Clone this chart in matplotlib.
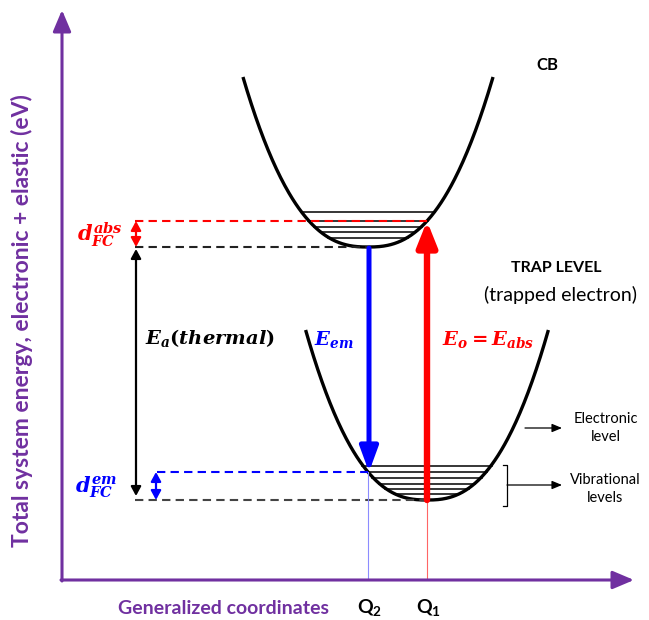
import matplotlib.pyplot as plt
import numpy as np

plt.rcParams['font.family'] = ['Lato', 'DejaVu Sans']
plt.rcParams['mathtext.fontset'] = 'custom'
plt.rcParams['mathtext.it'] = 'DejaVu Serif:italic:bold'
plt.rcParams['mathtext.rm'] = 'DejaVu Serif:bold'
plt.rcParams['mathtext.sf'] = 'Lato:bold'

PURPLE = '#7030A0'

# configuration coordinates of the two minima
Q2 = 368      # conduction band minimum
Q1 = 427      # trap level minimum

# energies (trap minimum taken as zero)
E_trap = 0
E_cb = 253            # E_a(thermal)
d_abs = 26            # Franck-Condon shift on absorption
d_em = 28             # Franck-Condon shift on emission
E_cb_top = 423
E_trap_top = 170
SHAPE = 2.5           # exponent of the well profile

cb_levels = [262, 268, 273, 279, 288]
trap_levels = [6, 11, 16, 22, 28, 34]


def well(q_min, e_min, k, e_top, n=300):
    half = ((e_top - e_min) / k) ** (1 / SHAPE)
    q = np.linspace(q_min - half, q_min + half, n)
    return q, e_min + k * np.abs(q - q_min) ** SHAPE


def width_at(k, e_min, e):
    return ((e - e_min) / k) ** (1 / SHAPE)


k_cb = d_abs / abs(Q1 - Q2) ** SHAPE
k_trap = d_em / abs(Q1 - Q2) ** SHAPE

fig = plt.figure(figsize=(6.49, 6.2), dpi=100)
ax = fig.add_axes([0, 0, 1, 1])
ax.set_xlim(0, 649)
ax.set_ylim(-120, 500)
ax.axis('off')

# axes arrows
ax.annotate('', xy=(62, 490), xytext=(62, -81),
            arrowprops=dict(arrowstyle='-|>,head_length=1.3,head_width=0.55',
                            lw=2.2, color=PURPLE, shrinkA=0, shrinkB=0))
ax.annotate('', xy=(634, -80), xytext=(61, -80),
            arrowprops=dict(arrowstyle='-|>,head_length=1.3,head_width=0.55',
                            lw=2.2, color=PURPLE, shrinkA=0, shrinkB=0))

# potential wells
q, e = well(Q2, E_cb, k_cb, E_cb_top)
ax.plot(q, e, color='black', lw=2.4, solid_capstyle='butt')
q, e = well(Q1, E_trap, k_trap, E_trap_top)
ax.plot(q, e, color='black', lw=2.4, solid_capstyle='butt')

# vibrational levels
for lev in cb_levels:
    h = width_at(k_cb, E_cb, lev) + 1
    ax.plot([Q2 - h, Q2 + h], [lev, lev], color='black', lw=1.1)
for lev in trap_levels:
    h = width_at(k_trap, E_trap, lev) + 1
    ax.plot([Q1 - h, Q1 + h], [lev, lev], color='black', lw=1.1)

dash = (0, (4, 2.5))
ax.plot([135, Q1], [E_cb + d_abs] * 2, color='red', lw=1.5, linestyle=dash)
ax.plot([135, Q2], [E_cb] * 2, color='#222222', lw=1.5, linestyle=dash)
ax.plot([157, Q2], [E_trap + d_em] * 2, color='blue', lw=1.5, linestyle=dash)
ax.plot([135, Q1], [E_trap] * 2, color='#444444', lw=1.5, linestyle=dash)

# thin projections onto the coordinate axis
ax.plot([Q2, Q2], [E_trap + d_em, -79], color='#8c8cff', lw=0.8)
ax.plot([Q1, Q1], [E_trap, -79], color='#ff6666', lw=0.8)

# emission and absorption
ax.annotate('', xy=(Q2 + 1, E_trap + d_em), xytext=(Q2 + 1, E_cb - 1),
            arrowprops=dict(arrowstyle='-|>,head_length=1.5,head_width=0.55',
                            lw=3.6, color='blue', shrinkA=0, shrinkB=0))
ax.annotate('', xy=(Q1, E_cb + d_abs), xytext=(Q1, E_trap),
            arrowprops=dict(arrowstyle='-|>,head_length=1.5,head_width=0.6',
                            lw=4.6, color='red', shrinkA=0, shrinkB=0))

# Franck-Condon and activation arrows
dbl = '<|-|>,head_length=0.55,head_width=0.3'
ax.annotate('', xy=(136, E_cb + d_abs), xytext=(136, E_cb),
            arrowprops=dict(arrowstyle=dbl, lw=1.6, color='red', shrinkA=0, shrinkB=0))
ax.annotate('', xy=(136, E_cb - 2), xytext=(136, E_trap + 4),
            arrowprops=dict(arrowstyle=dbl, lw=1.6, color='black', shrinkA=0, shrinkB=0))
ax.annotate('', xy=(156, E_trap + d_em), xytext=(156, E_trap),
            arrowprops=dict(arrowstyle=dbl, lw=1.6, color='blue', shrinkA=0, shrinkB=0))

ax.text(100, 265, r'$d_{FC}^{abs}$', color='red', fontsize=15, ha='center', va='center')
ax.text(96, 13, r'$d_{FC}^{em}$', color='blue', fontsize=15, ha='center', va='center')
ax.text(210, 162, r'$E_a(thermal)$', color='black', fontsize=14, ha='center', va='center')
ax.text(334, 160, r'$E_{em}$', color='blue', fontsize=14, ha='center', va='center')
ax.text(488, 160, r'$E_o = E_{abs}$', color='red', fontsize=14, ha='center', va='center')

ax.text(547, 435, 'CB', fontsize=12, fontweight='bold', ha='center', va='center')
ax.text(556, 232, 'TRAP LEVEL', fontsize=11.5, fontweight='bold', ha='center', va='center')
ax.text(560, 205, '(trapped electron)', fontsize=14, ha='center', va='center')

# side annotations
ax.annotate('', xy=(562, 72), xytext=(525, 72),
            arrowprops=dict(arrowstyle='-|>,head_length=0.6,head_width=0.25',
                            lw=0.9, color='black', shrinkA=0, shrinkB=0))
ax.text(606, 72, 'Electronic\nlevel', fontsize=10.5, ha='center', va='center',
        linespacing=1.3)
ax.plot([503, 507, 507, 503], [35, 35, -6, -6], color='black', lw=0.9)
ax.annotate('', xy=(562, 15), xytext=(507, 15),
            arrowprops=dict(arrowstyle='-|>,head_length=0.6,head_width=0.25',
                            lw=0.9, color='black', shrinkA=0, shrinkB=0))
ax.text(605, 11, 'Vibrational\nlevels', fontsize=10.5, ha='center', va='center',
        linespacing=1.3)

# axis labels
ax.text(223, -108, 'Generalized coordinates', color=PURPLE, fontsize=14,
        fontweight='bold', ha='center', va='center')
ax.text(Q2 + 2, -108, r'$\mathsf{Q}_{\mathsf{2}}$', fontsize=14, ha='center', va='center')
ax.text(Q1 + 2, -108, r'$\mathsf{Q}_{\mathsf{1}}$', fontsize=14, ha='center', va='center')
ax.text(22, 179, 'Total system energy, electronic + elastic (eV)', color=PURPLE,
        fontsize=16.5, fontweight='bold', rotation=90, ha='center', va='center')

fig.savefig('out.png', dpi=100)
